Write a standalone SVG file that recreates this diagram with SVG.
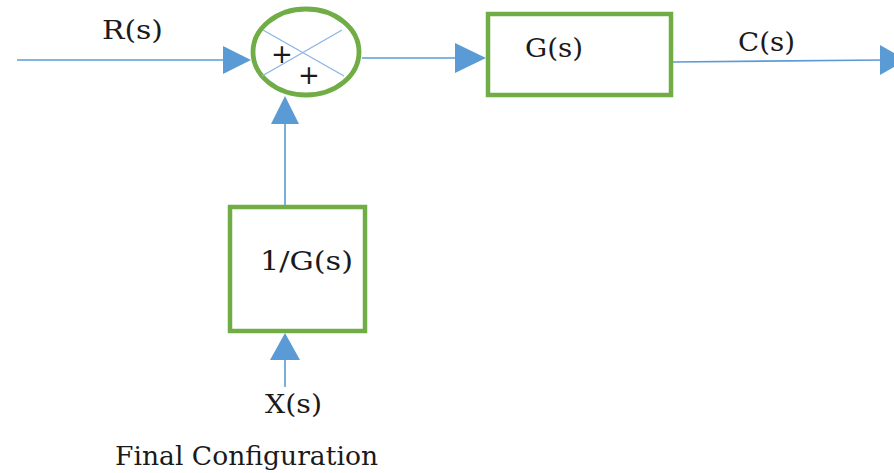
<svg xmlns="http://www.w3.org/2000/svg" width="894" height="473" viewBox="0 0 894 473">
<style>
.ln{stroke:#5B9BD5;stroke-width:1.6;fill:none}
.xl{stroke:#8DB6E2;stroke-width:1.4;fill:none}
.ah{fill:#5B9BD5}
.bx{fill:#fff;stroke:#70AD47;stroke-width:4.5}
.t{font-family:"DejaVu Serif","Liberation Serif",serif;font-size:26px;fill:#1a1a1a}
.p{font-family:"DejaVu Sans","Liberation Sans",sans-serif;font-size:26px;fill:#1a1a1a}
</style>
<rect width="894" height="473" fill="#fff"/>
<g id="connectors">
<line class="ln" x1="17" y1="60" x2="226" y2="60"/>
<polygon class="ah" points="223,46 251,60 223,74"/>
<line class="ln" x1="362" y1="58" x2="458" y2="58"/>
<polygon class="ah" points="455,43 486,58 455,73"/>
<line class="ln" x1="673" y1="62" x2="882" y2="60"/>
<polygon class="ah" points="880,45 906,60 880,75"/>
<line class="ln" x1="285" y1="205" x2="285" y2="120"/>
<polygon class="ah" points="271,124 285,96 299,124"/>
<line class="ln" x1="285" y1="387" x2="285" y2="356"/>
<polygon class="ah" points="270,360 285,333 300,360"/>
</g>
<g id="sum">
<ellipse cx="306" cy="52" rx="53" ry="43" fill="#fff" stroke="#70AD47" stroke-width="4.8"/>
<line class="xl" x1="263" y1="30" x2="344" y2="76"/>
<line class="xl" x1="342" y1="30" x2="262" y2="76"/>
<text class="p" x="282" y="63" text-anchor="middle">+</text>
<text class="p" x="309" y="84" text-anchor="middle">+</text>
</g>
<g id="G">
<rect class="bx" x="488" y="14" width="183" height="81"/>
<text class="t" x="525" y="57" textLength="58" lengthAdjust="spacingAndGlyphs">G(s)</text>
</g>
<g id="invG">
<rect class="bx" x="230" y="207" width="135" height="124"/>
<text class="t" x="260" y="270" textLength="93" lengthAdjust="spacingAndGlyphs">1/G(s)</text>
</g>
<g id="labels">
<text class="t" x="102" y="39" textLength="61" lengthAdjust="spacingAndGlyphs">R(s)</text>
<text class="t" x="738" y="51" textLength="57" lengthAdjust="spacingAndGlyphs">C(s)</text>
<text class="t" x="265" y="413" textLength="57" lengthAdjust="spacingAndGlyphs">X(s)</text>
<text class="t" x="115" y="465" textLength="263" lengthAdjust="spacingAndGlyphs">Final Configuration</text>
</g>
</svg>
